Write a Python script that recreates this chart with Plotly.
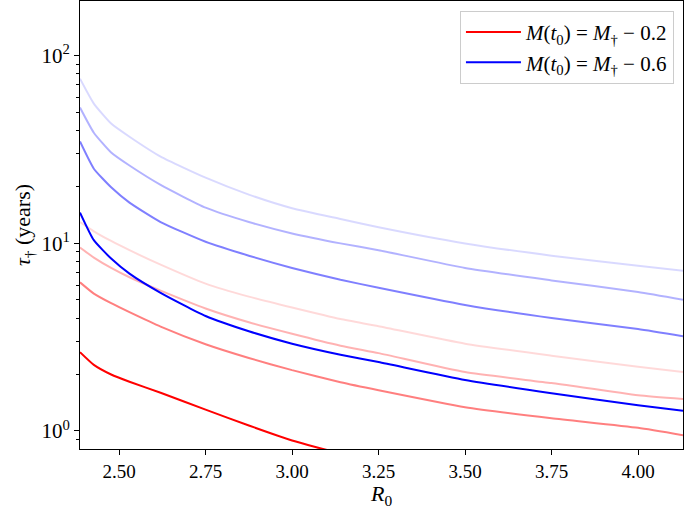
import plotly.graph_objects as go

R0 = [2.387, 2.427, 2.477, 2.53, 2.62, 2.75, 2.875, 3.0, 3.14, 3.25, 3.5, 3.75, 4.0, 4.13]

# red family: M(t0) = M_dagger - 0.2 (full colour) and fainter companions
red_1 = [2.63, 2.25, 2.0, 1.83, 1.6, 1.3, 1.07, 0.89, 0.76, 0.70, 0.57, 0.49, 0.44, 0.40]
red_2 = [6.2, 5.4, 4.8, 4.3, 3.6, 2.9, 2.45, 2.11, 1.82, 1.65, 1.34, 1.17, 1.04, 0.95]
red_3 = [9.5, 8.4, 7.4, 6.6, 5.6, 4.5, 3.8, 3.3, 2.85, 2.6, 2.06, 1.8, 1.55, 1.48]
red_4 = [13.0, 11.6, 10.3, 9.2, 7.7, 6.1, 5.2, 4.55, 3.95, 3.62, 2.92, 2.52, 2.2, 2.06]

# blue family: M(t0) = M_dagger - 0.6
blue_1 = [14.6, 10.4, 8.3, 6.9, 5.45, 4.1, 3.4, 2.92, 2.55, 2.33, 1.87, 1.59, 1.37, 1.28]
blue_2 = [34.9, 25.0, 19.9, 16.5, 13.0, 10.2, 8.6, 7.4, 6.4, 5.8, 4.7, 4.0, 3.5, 3.2]
blue_3 = [53.0, 38.9, 30.5, 26.0, 20.5, 15.5, 13.0, 11.3, 10.0, 9.2, 7.4, 6.35, 5.5, 5.0]
blue_4 = [75.5, 55.6, 43.5, 37.0, 29.0, 22.4, 18.2, 15.4, 13.5, 12.2, 10.0, 8.6, 7.6, 7.15]

alphas = [1.0, 0.5, 0.3, 0.15]
x_ticks = [2.50, 2.75, 3.00, 3.25, 3.50, 3.75, 4.00]
y_ticks = [1, 10, 100]
y_tick_text = ["10<sup>0</sup>", "10<sup>1</sup>", "10<sup>2</sup>"]
y_minor = [0.9, 2, 3, 4, 5, 6, 7, 8, 9, 20, 30, 40, 50, 60, 70, 80, 90]

FONT = "Liberation Serif"

fig = go.Figure()

def add_family(series, rgb, name):
    # draw faint first so the full-colour line stays on top
    for i in reversed(range(len(series))):
        a = alphas[i]
        fig.add_trace(go.Scatter(
            x=R0, y=series[i], mode="lines",
            line=dict(color=f"rgba({rgb},{a})", width=2, shape="spline", smoothing=0.5),
            name=name, showlegend=(i == 0),
        ))

add_family([red_1, red_2, red_3, red_4], "255,0,0",
           "<i>M</i>(<i>t</i><sub>0</sub>) = <i>M</i><sub>†</sub> − 0.2")
add_family([blue_1, blue_2, blue_3, blue_4], "0,0,255",
           "<i>M</i>(<i>t</i><sub>0</sub>) = <i>M</i><sub>†</sub> − 0.6")

fig.update_layout(
    width=684, height=509,
    margin=dict(l=80, r=1, t=1, b=60),
    paper_bgcolor="white", plot_bgcolor="white",
    font=dict(family=FONT, size=19, color="black"),
    showlegend=True,
    legend=dict(
        x=0.985, y=0.978, xanchor="right", yanchor="top",
        bgcolor="rgba(255,255,255,0.8)", bordercolor="#cccccc", borderwidth=1,
        font=dict(family=FONT, size=21),
        itemwidth=55,
        traceorder="normal",
    ),
    xaxis=dict(
        range=[2.387, 4.13], automargin=False,
        tickvals=x_ticks, tickformat=".2f",
        tickfont=dict(family=FONT, size=19),
        ticks="outside", ticklen=5, tickcolor="black",
        showline=True, linecolor="black", linewidth=1, mirror=True,
        showgrid=False, zeroline=False,
        title=dict(text="<i>R</i><sub>0</sub>", font=dict(family=FONT, size=22), standoff=4),
    ),
    yaxis=dict(
        type="log", automargin=False,
        range=[-0.096, 2.292],
        tickvals=y_ticks, ticktext=y_tick_text,
        tickfont=dict(family=FONT, size=21),
        ticks="outside", ticklen=5, tickcolor="black",
        minor=dict(tickvals=y_minor, ticks="outside", ticklen=3, tickcolor="black", showgrid=False),
        showline=True, linecolor="black", linewidth=1, mirror=True,
        showgrid=False, zeroline=False,
        title=dict(text="<i>τ</i><sub>†</sub> (years)", font=dict(family=FONT, size=22), standoff=4),
    ),
)

fig.write_html(
    "out.html",
    config={"displayModeBar": False},
    post_script="document.body.style.margin='0';document.body.style.overflow='hidden';",
)
